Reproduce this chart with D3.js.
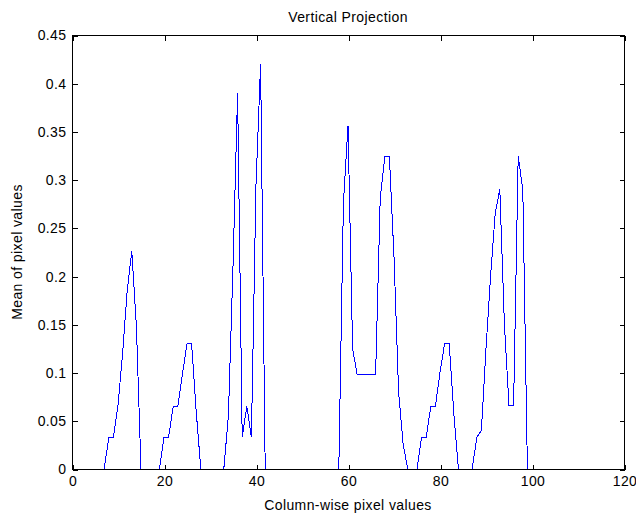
<!DOCTYPE html>
<html>
<head>
<meta charset="utf-8">
<script src="https://cdn.jsdelivr.net/npm/d3@7/dist/d3.min.js"></script>
<style>
  html, body { margin: 0; padding: 0; background: #fff; }
  svg { display: block; }
  text { font-family: "Liberation Sans", Arial, sans-serif; fill: #000; }
</style>
</head>
<body>
<svg id="chart" width="636" height="515"></svg>
<script>
// ---- data ----
const columns = d3.range(1, 101); // column index 1..100
const meanValues = [
  0, 0, 0, 0, 0, 0, 0, 0.033, 0.033, 0.066,          // 1-10
  0.12, 0.185, 0.226, 0.148, 0, 0, 0, 0, 0, 0.033,    // 11-20
  0.033, 0.065, 0.065, 0.098, 0.13, 0.13, 0.06, 0, 0, 0, // 21-30
  0, 0, 0, 0.055, 0.21, 0.39, 0.033, 0.065, 0.033, 0.295, // 31-40
  0.42, 0, 0, 0, 0, 0, 0, 0, 0, 0,                    // 41-50
  0, 0, 0, 0, 0, 0, 0, 0, 0.275, 0.356,               // 51-60
  0.125, 0.0975, 0.0975, 0.0975, 0.0975, 0.0975, 0.28, 0.324, 0.324, 0.22, // 61-70
  0.08, 0.025, 0, 0, 0, 0.033, 0.033, 0.065, 0.065, 0.1, // 71-80
  0.13, 0.13, 0.058, 0, 0, 0, 0, 0.033, 0.04, 0.125,  // 81-90
  0.2, 0.265, 0.29, 0.15, 0.066, 0.066, 0.324, 0.29, 0, 0 // 91-100
];
const xTicks = [0, 20, 40, 60, 80, 100, 120];
const xTickLabels = ["0", "20", "40", "60", "80", "100", "120"];
const yTicks = [0, 0.05, 0.1, 0.15, 0.2, 0.25, 0.3, 0.35, 0.4, 0.45];
const yTickLabels = ["0", "0.05", "0.1", "0.15", "0.2", "0.25", "0.3", "0.35", "0.4", "0.45"];
const titleText = "Vertical Projection";
const xLabelText = "Column-wise pixel values";
const yLabelText = "Mean of pixel values";

// ---- layout ----
const svg = d3.select("#chart");
const L = 72, R = 624, T = 35, B = 469;
const x = d3.scaleLinear().domain([0, 120]).range([L, R]);
const y = d3.scaleLinear().domain([0, 0.45]).range([B, T]);
const fontSize = 14;
const ls = "0.4px";

// data line
const pts = columns.map((c, i) => [c, meanValues[i]]);
svg.append("path")
  .datum(pts)
  .attr("fill", "none")
  .attr("stroke", "#0000ff")
  .attr("stroke-width", 1)
  .attr("shape-rendering", "crispEdges")
  .attr("d", d3.line().x(d => x(d[0])).y(d => y(d[1])));

// axes box
svg.append("rect")
  .attr("x", L + 0.5).attr("y", T + 0.5)
  .attr("width", R - L).attr("height", B - T)
  .attr("fill", "none").attr("stroke", "#000").attr("stroke-width", 1)
  .attr("shape-rendering", "crispEdges");

function styleAxis(g) {
  g.attr("font-family", null).attr("font-size", null);
  g.select(".domain").remove();
  g.selectAll(".tick line").attr("stroke", "#000").attr("shape-rendering", "crispEdges");
  g.selectAll(".tick text")
    .attr("font-family", "'Liberation Sans', Arial, sans-serif")
    .attr("font-size", fontSize)
    .attr("letter-spacing", ls)
    .attr("fill", "#000");
}

const xAxisB = d3.axisBottom(x).tickValues(xTicks)
  .tickFormat((d, i) => xTickLabels[i]).tickSizeInner(-5).tickSizeOuter(0).tickPadding(7);
svg.append("g").attr("transform", `translate(0.5,${B + 0.5})`).call(xAxisB).call(styleAxis);

const xAxisT = d3.axisTop(x).tickValues(xTicks)
  .tickFormat("").tickSizeInner(-5).tickSizeOuter(0);
svg.append("g").attr("transform", `translate(0.5,${T + 0.5})`).call(xAxisT).call(styleAxis);

const yAxisL = d3.axisLeft(y).tickValues(yTicks)
  .tickFormat((d, i) => yTickLabels[i]).tickSizeInner(-5).tickSizeOuter(0).tickPadding(6);
svg.append("g").attr("transform", `translate(${L + 0.5},0.5)`).call(yAxisL).call(styleAxis);

const yAxisR = d3.axisRight(y).tickValues(yTicks)
  .tickFormat("").tickSizeInner(-5).tickSizeOuter(0);
svg.append("g").attr("transform", `translate(${R + 0.5},0.5)`).call(yAxisR).call(styleAxis);

// labels
svg.append("text")
  .attr("x", (L + R) / 2).attr("y", 22)
  .attr("text-anchor", "middle")
  .attr("font-size", fontSize).attr("letter-spacing", ls)
  .text(titleText);

svg.append("text")
  .attr("x", (L + R) / 2).attr("y", 510)
  .attr("text-anchor", "middle")
  .attr("font-size", fontSize).attr("letter-spacing", ls)
  .text(xLabelText);

svg.append("text")
  .attr("transform", `translate(22,${(T + B) / 2}) rotate(-90)`)
  .attr("text-anchor", "middle")
  .attr("font-size", fontSize).attr("letter-spacing", ls)
  .text(yLabelText);
</script>
</body>
</html>
